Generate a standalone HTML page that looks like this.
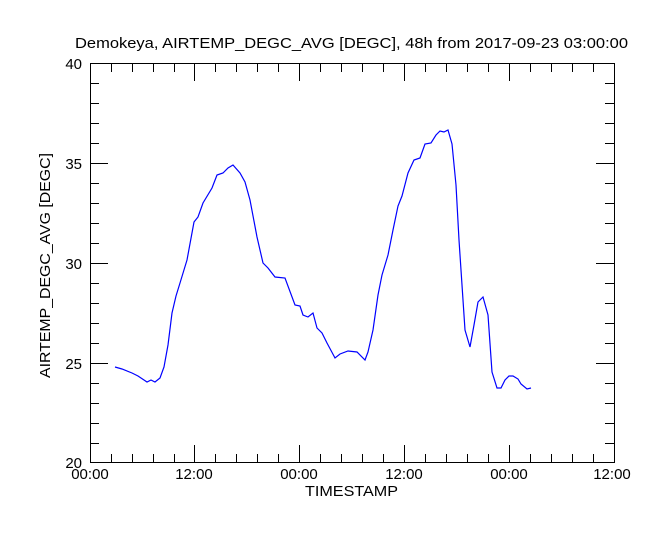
<!DOCTYPE html>
<html><head><meta charset="utf-8"><style>
html,body{margin:0;padding:0;background:#fff;}
svg{display:block;font-family:"Liberation Sans",sans-serif;}
</style></head><body>
<svg width="666" height="533" viewBox="0 0 666 533" xmlns="http://www.w3.org/2000/svg">
<rect width="666" height="533" fill="#fff"/>
<text x="75" y="48" font-size="15" textLength="553" lengthAdjust="spacingAndGlyphs" fill="#000">Demokeya, AIRTEMP_DEGC_AVG [DEGC], 48h from  2017-09-23 03:00:00</text>
<g stroke="#000" stroke-width="1" fill="none">
<rect x="90.5" y="63.5" width="524" height="399"/>
<path d="M111.5,463v-9M132.5,463v-9M153.5,463v-9M174.5,463v-9M215.5,463v-9M236.5,463v-9M257.5,463v-9M278.5,463v-9M320.5,463v-9M341.5,463v-9M362.5,463v-9M383.5,463v-9M425.5,463v-9M446.5,463v-9M467.5,463v-9M488.5,463v-9M530.5,463v-9M551.5,463v-9M572.5,463v-9M593.5,463v-9M194.5,463v-18M299.5,463v-18M404.5,463v-18M509.5,463v-18
M111.5,63v9M132.5,63v9M153.5,63v9M174.5,63v9M215.5,63v9M236.5,63v9M257.5,63v9M278.5,63v9M320.5,63v9M341.5,63v9M362.5,63v9M383.5,63v9M425.5,63v9M446.5,63v9M467.5,63v9M488.5,63v9M530.5,63v9M551.5,63v9M572.5,63v9M593.5,63v9M194.5,63v18M299.5,63v18M404.5,63v18M509.5,63v18"/>
<path d="M90,83.5h9M90,103.5h9M90,123.5h9M90,143.5h9M90,183.5h9M90,203.5h9M90,223.5h9M90,243.5h9M90,283.5h9M90,303.5h9M90,323.5h9M90,343.5h9M90,383.5h9M90,403.5h9M90,423.5h9M90,443.5h9M90,163.5h18M90,263.5h18M90,363.5h18
M614,83.5h-9M614,103.5h-9M614,123.5h-9M614,143.5h-9M614,183.5h-9M614,203.5h-9M614,223.5h-9M614,243.5h-9M614,283.5h-9M614,303.5h-9M614,323.5h-9M614,343.5h-9M614,383.5h-9M614,403.5h-9M614,423.5h-9M614,443.5h-9M614,163.5h-18M614,263.5h-18M614,363.5h-18"/>
</g>
<g font-size="15" fill="#000" text-anchor="end">
<text x="82" y="69">40</text><text x="82" y="169">35</text><text x="82" y="269">30</text><text x="82" y="369">25</text><text x="82" y="468">20</text>
</g>
<g font-size="15" fill="#000" text-anchor="middle">
<text x="90" y="479">00:00</text><text x="194" y="479">12:00</text><text x="299" y="479">00:00</text><text x="404" y="479">12:00</text><text x="509" y="479">00:00</text><text x="612" y="479">12:00</text>
</g>
<text x="305" y="496" font-size="15" textLength="93" lengthAdjust="spacingAndGlyphs" fill="#000">TIMESTAMP</text>
<text transform="translate(50,378) rotate(-90)" font-size="15" textLength="225" lengthAdjust="spacingAndGlyphs" fill="#000">AIRTEMP_DEGC_AVG [DEGC]</text>
<polyline fill="none" stroke="#0000ff" stroke-width="1.2" points="115,367 122,369 132,373 138,376 147,382 151,380 155,382 160,378 164,367 168,345 172,313 176,296 180,283 187,260 194,222 198,217 203,203 212,188 217,175 223,173 228,168 233,165 240,173 245,182 250,200 257,237 263,263 268,268 275,277 285,278 295,305 300,306 303,315 308,317 313,313 317,328 322,333 327,343 335,358 340,354 348,351 357,352 365,360 368,352 373,330 378,295 382,275 388,255 393,230 398,206 402,196 408,173 414,160 420,158 425,144 431,143 436,135 440,131 444,132 448,130 452,144 456,185 459,240 465,330 470,347 474,325 478,302 483,297 488,315 492,372 497,388 501,388 505,380 509,376 513,376 518,379 521,384 527,389 531,388"/>
</svg>
</body></html>
